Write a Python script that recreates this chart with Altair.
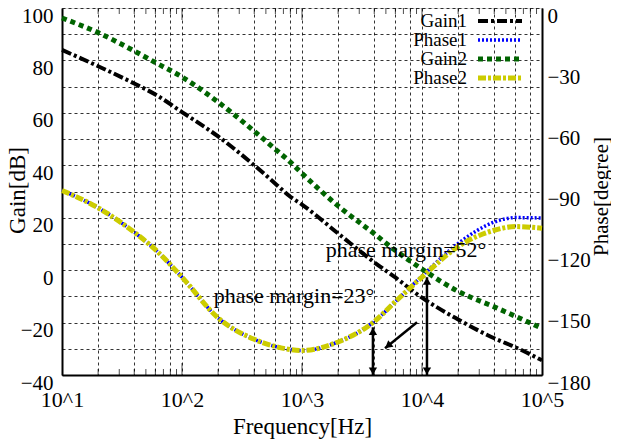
import altair as alt
import pandas as pd

# ---- data ----
freq = [10, 20, 40, 60, 100, 200, 400, 600, 800, 1000, 2000, 4000, 6000,
        10000, 20000, 40000, 60000, 100000]
gain1 = [84.0, 77.8, 71.2, 67.0, 60.3, 51.0, 40.0, 33.0, 28.0, 25.0, 14.0,
         3.0, -2.8, -10.5, -18.8, -26.0, -29.4, -34.4]
gain2 = [96.2, 90.6, 83.6, 79.2, 73.7, 64.1, 53.0, 46.1, 41.2, 36.9, 24.5,
         13.9, 7.5, 0.4, -8.1, -14.0, -17.6, -22.2]
phase1 = [-89.5, -98.0, -110.0, -118.5, -132.0, -152.0, -162.5, -166.0,
          -167.5, -168.0, -163.8, -153.8, -144.0, -131.5, -115.5, -105.0,
          -102.8, -103.0]
phase2 = [-89.5, -98.0, -110.0, -118.5, -132.0, -152.0, -162.5, -166.0,
          -167.5, -168.0, -163.8, -153.8, -144.0, -132.0, -117.0, -109.0,
          -107.2, -108.0]

series_names = ["Gain1", "Phase1", "Gain2", "Phase2"]

x_grid = [10, 20, 40, 60, 80, 100, 200, 400, 600, 800, 1000, 2000, 4000,
          6000, 8000, 10000, 20000, 40000, 60000, 80000, 100000]
x_minor = [20, 30, 40, 50, 60, 70, 80, 90,
           200, 300, 400, 500, 600, 700, 800, 900,
           2000, 3000, 4000, 5000, 6000, 7000, 8000, 9000,
           20000, 30000, 40000, 50000, 60000, 70000, 80000, 90000]
x_major = [100, 1000, 10000]
gain_ticks = [-40, -30, -20, -10, 0, 10, 20, 30, 40, 50, 60, 70, 80, 90, 100]
phase_ticks = [-180, -150, -120, -90, -60, -30, 0]

ann_text = ["phase margin=52°", "phase margin=23°"]
ann_freq = [7360, 858]
ann_gain = [7.6, -10.0]

arrow_f1 = [3900, 11000, 9090]
arrow_g1 = [-40, -40, -19.9]
arrow_f2 = [3900, 11000, 4920]
arrow_g2 = [-21.8, -2.7, -29.8]

df = pd.DataFrame(dict(freq=freq, gain1=gain1, gain2=gain2,
                       phase1=phase1, phase2=phase2))
ann = pd.DataFrame(dict(text=ann_text, freq=ann_freq, gain=ann_gain))
arrows = pd.DataFrame(dict(f1=arrow_f1, g1=arrow_g1, f2=arrow_f2, g2=arrow_g2))
heads_up = pd.DataFrame(dict(f=[arrow_f2[0], arrow_f2[1]], g=[arrow_g2[0], arrow_g2[1]]))
heads_down = pd.DataFrame(dict(f=[arrow_f1[0], arrow_f1[1]], g=[arrow_g1[0], arrow_g1[1]]))
heads_diag = pd.DataFrame(dict(f=[arrow_f2[2]], g=[arrow_g2[2]]))
minor_df = pd.DataFrame(dict(f=x_minor))
major_df = pd.DataFrame(dict(f=x_major))

FONT = "Liberation Serif, Times New Roman, DejaVu Serif, serif"

xscale = alt.Scale(type="log", domain=[10, 100000], nice=False)
gscale = alt.Scale(domain=[-40, 100], nice=False, zero=False)
pscale = alt.Scale(domain=[-180, 0], nice=False, zero=False)

x_axis = alt.Axis(
    values=x_grid,
    labelExpr="abs(log(datum.value)/LN10 - round(log(datum.value)/LN10)) < 0.001 ? '10^' + round(log(datum.value)/LN10) : ''",
    grid=True, gridDash=[3, 3], gridColor="black", gridOpacity=0.8, gridWidth=1,
    ticks=False, labelOverlap=False, labelFlush=False, labelPadding=14,
    labelFontSize=22, labelFont=FONT, labelColor="black",
    domainColor="black", domainWidth=2,
    title="Frequency[Hz]", titleFontSize=23, titleFont=FONT,
    titleFontWeight="normal", titleColor="black",
    titleX=240, titleY=58, titleBaseline="alphabetic", titleAlign="center",
)
X = alt.X("freq:Q", scale=xscale, axis=x_axis)

left_axis = alt.Axis(
    values=gain_ticks, labelExpr="datum.value % 20 == 0 ? datum.label : ''",
    grid=True, gridDash=[3, 3], gridColor="black", gridOpacity=0.8, gridWidth=1,
    ticks=False, labelOverlap=False, labelFlush=False, labelPadding=9,
    labelOffset=8, labelFontSize=21, labelFont=FONT, labelColor="black",
    domainColor="black", domainWidth=2,
    title="Gain[dB]", titleFontSize=23, titleFont=FONT,
    titleFontWeight="normal", titleColor="black",
    titleX=-38, titleY=182, titleBaseline="alphabetic", titleAngle=270,
    titleAlign="center",
)
right_axis = alt.Axis(
    orient="right", values=phase_ticks, grid=False, ticks=False,
    labelOverlap=False, labelFlush=False, labelPadding=5, labelOffset=8,
    labelFontSize=21, labelFont=FONT, labelColor="black",
    domainColor="black", domainWidth=2,
    title="Phase[degree]", titleFontSize=21, titleFont=FONT,
    titleFontWeight="normal", titleColor="black",
    titleX=65, titleY=188, titleBaseline="alphabetic", titleAngle=270,
    titleAlign="center",
)

base = alt.Chart(df)

styles = {
    "Gain1": dict(color="black", strokeWidth=4, strokeDash=[10, 3, 3, 3]),
    "Phase1": dict(color="#0000ff", strokeWidth=3.5, strokeDash=[2, 2]),
    "Gain2": dict(color="#006400", strokeWidth=5, strokeDash=[5, 4]),
    "Phase2": dict(color="#cccc00", strokeWidth=5, strokeDash=[8, 2, 3, 2]),
}

# inward minor / major ticks on bottom and top frame
def xticks(d, size, yy):
    return alt.Chart(d).mark_tick(color="black", thickness=1, size=size,
                                  orient="vertical").encode(
        x=alt.X("f:Q", scale=xscale, axis=x_axis), y=alt.value(yy))

t_min_b = xticks(minor_df, 6, 364)
t_min_t = xticks(minor_df, 6, 3)
t_maj_b = xticks(major_df, 12, 361)
t_maj_t = xticks(major_df, 12, 6)

l_g1 = base.mark_line(interpolate="monotone", **styles["Gain1"]).encode(
    x=X, y=alt.Y("gain1:Q", scale=gscale, axis=left_axis))
l_p1 = base.mark_line(interpolate="monotone", **styles["Phase1"]).encode(
    x=X, y=alt.Y("phase1:Q", scale=pscale, axis=right_axis))
l_g2 = base.mark_line(interpolate="monotone", **styles["Gain2"]).encode(
    x=X, y=alt.Y("gain2:Q", scale=gscale, axis=None))
l_p2 = base.mark_line(interpolate="monotone", **styles["Phase2"]).encode(
    x=X, y=alt.Y("phase2:Q", scale=pscale, axis=None))

ann_layer = alt.Chart(ann).mark_text(font=FONT, fontSize=22, color="black",
                                     align="center", baseline="middle").encode(
    x=alt.X("freq:Q", scale=xscale, axis=x_axis),
    y=alt.Y("gain:Q", scale=gscale, axis=None), text="text:N")

arrow_lines = alt.Chart(arrows).mark_rule(color="black", strokeWidth=2.5).encode(
    x=alt.X("f1:Q", scale=xscale, axis=x_axis), x2="f2:Q",
    y=alt.Y("g1:Q", scale=gscale, axis=None), y2="g2:Q")

def heads(d, shape, angle, xo, yo):
    return alt.Chart(d).mark_point(shape=shape, filled=True, color="black",
                                   opacity=1, size=70, angle=angle,
                                   xOffset=xo, yOffset=yo).encode(
        x=alt.X("f:Q", scale=xscale, axis=x_axis),
        y=alt.Y("g:Q", scale=gscale, axis=None))

h_up = heads(heads_up, "triangle-up", 0, 0, 4)
h_down = heads(heads_down, "triangle-up", 180, 0, -4)
h_diag = heads(heads_diag, "triangle-up", 231, 3, -2.5)

# legend (top right, labels left of samples)
legend_layers = []
rows_y = [13, 32, 51, 70]
for name, yy in zip(series_names, rows_y):
    st = styles[name]
    legend_layers.append(
        alt.Chart(pd.DataFrame({"n": [name]})).mark_text(
            font=FONT, fontSize=19, color="black", align="right",
            baseline="middle").encode(x=alt.value(405), y=alt.value(yy),
                                      text="n:N"))
    legend_layers.append(
        alt.Chart(pd.DataFrame({"n": [name]})).mark_rule(
            color=st["color"], strokeWidth=st["strokeWidth"],
            strokeDash=st["strokeDash"]).encode(
            x=alt.value(416), x2=alt.value(460), y=alt.value(yy)))

chart = alt.layer(
    l_g1, l_p1, l_g2, l_p2, t_min_b, t_min_t, t_maj_b, t_maj_t,
    ann_layer, arrow_lines, h_up, h_down, h_diag,
    *legend_layers
).resolve_scale(y="independent").properties(
    width=480, height=367,
    padding={"left": 54, "top": 0, "right": 69, "bottom": 66},
    autosize=alt.AutoSizeParams(type="none"),
).configure_view(stroke="black", strokeWidth=2).configure(font=FONT)

chart.save("out.html", embed_options={"renderer": "svg", "actions": False})
